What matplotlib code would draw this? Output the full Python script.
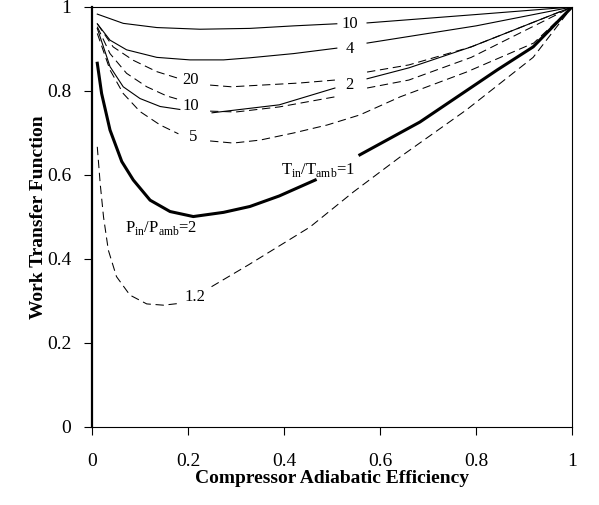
import numpy as np
import matplotlib
matplotlib.use('Agg')
import matplotlib.pyplot as plt

plt.rcParams['font.family'] = 'Liberation Serif'
plt.rcParams['mathtext.fontset'] = 'custom'
plt.rcParams['mathtext.rm'] = 'Liberation Serif'

nan = np.nan

# solid curves: Tin/Tamb varied (Pin/Pamb = 2)
t10_x = [0.011, 0.065, 0.135, 0.225, 0.329, 0.42, 0.51, nan, 0.573, 0.8, 1.0]
t10_y = [0.983, 0.961, 0.951, 0.947, 0.949, 0.955, 0.96, nan, 0.962, 0.982, 1.0]

t4_x = [0.011, 0.0375, 0.072, 0.135, 0.204, 0.274, 0.329, 0.42, 0.51, nan, 0.573, 0.8, 1.0]
t4_y = [0.96, 0.921, 0.898, 0.88, 0.874, 0.874, 0.879, 0.889, 0.902, nan, 0.914, 0.955, 1.0]

t2_x = [0.011, 0.0375, 0.065, 0.1, 0.142, 0.183, nan, 0.25, 0.39, 0.506, nan,
        0.573, 0.66, 0.79, 1.0]
t2_y = [0.949, 0.858, 0.81, 0.782, 0.763, 0.756, nan, 0.748, 0.767, 0.807, nan,
        0.829, 0.855, 0.905, 1.0]

# thick baseline: Tin/Tamb = 1, Pin/Pamb = 2
t1_x = [0.011, 0.02, 0.0375, 0.062, 0.086, 0.121, 0.1625, 0.211, 0.274, 0.329, 0.39,
        0.465, nan, 0.558, 0.683, 0.844, 0.919, 1.0]
t1_y = [0.866, 0.794, 0.707, 0.632, 0.588, 0.54, 0.513, 0.501, 0.511, 0.525, 0.55,
        0.588, nan, 0.648, 0.726, 0.85, 0.905, 1.0]

# dashed curves: Pin/Pamb varied (Tin/Tamb = 1)
p20_x = [0.011, 0.044, 0.086, 0.135, 0.18, nan, 0.246, 0.29, 0.433, 0.506, nan,
         0.573, 0.66, 0.79, 1.0]
p20_y = [0.96, 0.905, 0.873, 0.846, 0.83, nan, 0.814, 0.81, 0.819, 0.826, nan,
         0.845, 0.862, 0.905, 1.0]

p10_x = [0.011, 0.0375, 0.072, 0.114, 0.156, 0.183, nan, 0.246, 0.3, 0.39, 0.506, nan,
         0.573, 0.66, 0.79, 1.0]
p10_y = [0.953, 0.889, 0.842, 0.81, 0.788, 0.779, nan, 0.752, 0.75, 0.762, 0.786, nan,
         0.807, 0.826, 0.88, 1.0]

p5_x = [0.011, 0.0375, 0.065, 0.1, 0.142, 0.18, nan, 0.246, 0.294, 0.35, 0.42, 0.49,
        0.558, 0.642, 0.78, 0.92, 1.0]
p5_y = [0.937, 0.85, 0.794, 0.751, 0.719, 0.698, nan, 0.681, 0.676, 0.683, 0.70, 0.719,
        0.743, 0.786, 0.845, 0.914, 1.0]

p12_x = [0.011, 0.017, 0.024, 0.034, 0.051, 0.079, 0.114, 0.149, 0.18, nan, 0.249, 0.326,
         0.454, 0.545, 0.642, 0.78, 0.919, 1.0]
p12_y = [0.667, 0.58, 0.5, 0.421, 0.358, 0.314, 0.293, 0.29, 0.294, nan, 0.334, 0.386,
         0.476, 0.56, 0.643, 0.755, 0.88, 1.0]

# curve labels
label_text = ['10', '4', '2', '20', '10', '5', '1.2',
              r'T$_{\mathrm{in}}$/T$_{\mathrm{amb}}$=1',
              r'P$_{\mathrm{in}}$/P$_{\mathrm{amb}}$=2']
label_x = [0.537, 0.537, 0.537, 0.206, 0.206, 0.21, 0.214, 0.47, 0.143]
label_y = [0.96, 0.90, 0.814, 0.826, 0.764, 0.69, 0.31, 0.612, 0.474]

fig = plt.figure(figsize=(5.99, 5.05), dpi=100)
ax = fig.add_axes([0.1536, 0.1545, 0.8014, 0.8317])

for xs, ys in [(t10_x, t10_y), (t4_x, t4_y), (t2_x, t2_y)]:
    ax.plot(xs, ys, color='black', lw=0.8)
ax.plot(t1_x, t1_y, color='black', lw=2.2)
for xs, ys in [(p20_x, p20_y), (p10_x, p10_y), (p5_x, p5_y), (p12_x, p12_y)]:
    ax.plot(xs, ys, color='black', lw=0.75, dashes=(8, 4.5))

for t, x, y in zip(label_text, label_x, label_y):
    ax.text(x, y, t, ha='center', va='center', fontsize=12)

ax.set_xlim(0, 1)
ax.set_ylim(0, 1)
ax.set_xticks([0, 0.2, 0.4, 0.6, 0.8, 1])
ax.set_xticklabels(['0', '0.2', '0.4', '0.6', '0.8', '1'])
ax.set_yticks([0, 0.2, 0.4, 0.6, 0.8, 1])
ax.set_yticklabels(['0', '0.2', '0.4', '0.6', '0.8', '1'])
ax.tick_params(axis='both', labelsize=14, length=6, width=0.8, direction='out')
ax.tick_params(axis='x', pad=13)
ax.tick_params(axis='y', pad=9)

for side in ['top', 'right', 'bottom']:
    ax.spines[side].set_linewidth(0.8)
ax.spines['left'].set_linewidth(1.6)

ax.set_xlabel('Compressor Adiabatic Efficiency', fontsize=14, fontweight='bold', labelpad=0)
ax.set_ylabel('Work Transfer Function', fontsize=14, fontweight='bold', labelpad=0)

fig.savefig('out.png', dpi=100)
